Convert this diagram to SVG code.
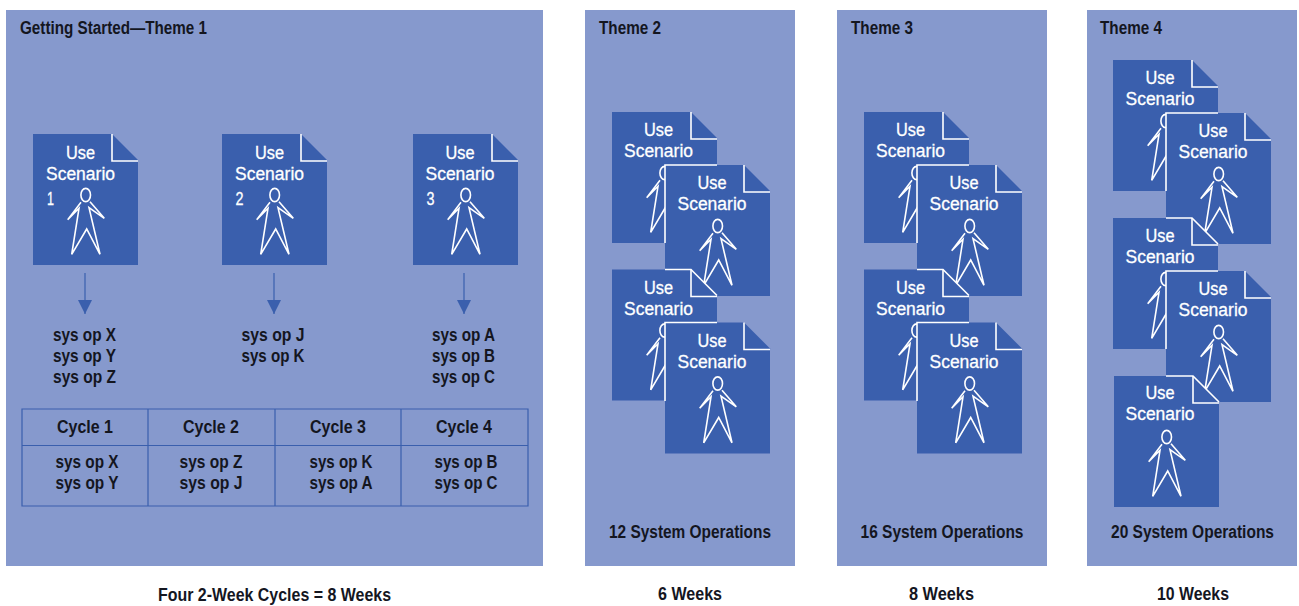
<svg xmlns="http://www.w3.org/2000/svg" width="1299" height="606" viewBox="0 0 1299 606">
<style>
text{font-family:"Liberation Sans",Arial,sans-serif;text-anchor:middle;font-size:18px}
.k{fill:#14161f;font-weight:700}
.l{text-anchor:start}
.w{fill:#fff;font-weight:400;stroke:#fff;stroke-width:.3px;font-size:18px}
.p{fill:#8699cd}
.d{fill:#3a5fad}
.f{fill:none;stroke:#fff;stroke-width:1.6}
.t{fill:none;stroke:#3a5fad;stroke-width:1.2}
.a{stroke:#3a5fad;stroke-width:1.2;fill:none}
</style>
<defs>
<g id="doc">
<path class="d" d="M0,0H79L105,26V131H0Z"/>
<path class="f" d="M79,0V27H105"/>
<ellipse class="f" cx="52.7" cy="61" rx="4.8" ry="6.6"/>
<path class="f" d="M48,68.3L34.7,85.7L46,74.3L38.7,120.3L53.7,95L67,120.3L56,73.7L71.3,84.3L57,67.7"/>
</g>
<marker id="ah" markerUnits="userSpaceOnUse" markerWidth="15" markerHeight="14" refX="14" refY="7" orient="auto"><path d="M0,0L14,7L0,14Z" fill="#3a5fad"/></marker>
</defs>
<g id="panels">
<rect class="p" x="6" y="10" width="537" height="556"/>
<rect class="p" x="585" y="10" width="210" height="556"/>
<rect class="p" x="837" y="10" width="210" height="556"/>
<rect class="p" x="1087" y="10" width="210" height="556"/>
</g>
<g id="titles">
<text class="k l" x="20" y="34" textLength="187" lengthAdjust="spacingAndGlyphs">Getting Started—Theme 1</text>
<text class="k l" x="599" y="34" textLength="62" lengthAdjust="spacingAndGlyphs">Theme 2</text>
<text class="k l" x="851" y="34" textLength="62" lengthAdjust="spacingAndGlyphs">Theme 3</text>
<text class="k l" x="1100" y="34" textLength="62" lengthAdjust="spacingAndGlyphs">Theme 4</text>
</g>
<g id="t1-s1"><use href="#doc" x="33" y="134"/><text class="w" x="80.5" y="158.500" textLength="29" lengthAdjust="spacingAndGlyphs">Use</text><text class="w" x="80.5" y="180" textLength="69" lengthAdjust="spacingAndGlyphs">Scenario</text><text class="w" x="50.5" y="204.500" textLength="7" lengthAdjust="spacingAndGlyphs">1</text></g>
<g id="t1-s2"><use href="#doc" x="222" y="134"/><text class="w" x="269.5" y="158.500" textLength="29" lengthAdjust="spacingAndGlyphs">Use</text><text class="w" x="269.5" y="180" textLength="69" lengthAdjust="spacingAndGlyphs">Scenario</text><text class="w" x="239.5" y="204.500" textLength="8" lengthAdjust="spacingAndGlyphs">2</text></g>
<g id="t1-s3"><use href="#doc" x="413" y="134"/><text class="w" x="460" y="158.500" textLength="29" lengthAdjust="spacingAndGlyphs">Use</text><text class="w" x="460" y="180" textLength="69" lengthAdjust="spacingAndGlyphs">Scenario</text><text class="w" x="430.5" y="204.500" textLength="8" lengthAdjust="spacingAndGlyphs">3</text></g>
<g id="connectors">
<path class="a" d="M85,273V314" marker-end="url(#ah)"/>
<path class="a" d="M274,273V314" marker-end="url(#ah)"/>
<path class="a" d="M464,273V314" marker-end="url(#ah)"/>
</g>
<g id="sysops">
<text class="k" x="84.5" y="341" textLength="63" lengthAdjust="spacingAndGlyphs">sys op X</text>
<text class="k" x="84.5" y="362" textLength="63" lengthAdjust="spacingAndGlyphs">sys op Y</text>
<text class="k" x="84.5" y="383" textLength="63" lengthAdjust="spacingAndGlyphs">sys op Z</text>
<text class="k" x="273" y="341" textLength="63" lengthAdjust="spacingAndGlyphs">sys op J</text>
<text class="k" x="273" y="362" textLength="63" lengthAdjust="spacingAndGlyphs">sys op K</text>
<text class="k" x="463.5" y="341" textLength="63" lengthAdjust="spacingAndGlyphs">sys op A</text>
<text class="k" x="463.5" y="362" textLength="63" lengthAdjust="spacingAndGlyphs">sys op B</text>
<text class="k" x="463.5" y="383" textLength="63" lengthAdjust="spacingAndGlyphs">sys op C</text>
</g>
<g id="cycle-table">
<path class="t" d="M22,409H528V506H22ZM22,445.500H528M148,409V506M275,409V506M401,409V506"/>
<text class="k" x="85" y="432.500" textLength="56" lengthAdjust="spacingAndGlyphs">Cycle 1</text>
<text class="k" x="211" y="432.500" textLength="56" lengthAdjust="spacingAndGlyphs">Cycle 2</text>
<text class="k" x="338" y="432.500" textLength="56" lengthAdjust="spacingAndGlyphs">Cycle 3</text>
<text class="k" x="464" y="432.500" textLength="56" lengthAdjust="spacingAndGlyphs">Cycle 4</text>
<text class="k" x="87" y="468" textLength="63" lengthAdjust="spacingAndGlyphs">sys op X</text>
<text class="k" x="87" y="489" textLength="63" lengthAdjust="spacingAndGlyphs">sys op Y</text>
<text class="k" x="211" y="468" textLength="63" lengthAdjust="spacingAndGlyphs">sys op Z</text>
<text class="k" x="211" y="489" textLength="63" lengthAdjust="spacingAndGlyphs">sys op J</text>
<text class="k" x="341" y="468" textLength="63" lengthAdjust="spacingAndGlyphs">sys op K</text>
<text class="k" x="341" y="489" textLength="63" lengthAdjust="spacingAndGlyphs">sys op A</text>
<text class="k" x="466" y="468" textLength="63" lengthAdjust="spacingAndGlyphs">sys op B</text>
<text class="k" x="466" y="489" textLength="63" lengthAdjust="spacingAndGlyphs">sys op C</text>
</g>

<g id="t2-s1"><use href="#doc" x="612" y="112"/><text class="w" x="658.500" y="136" textLength="29" lengthAdjust="spacingAndGlyphs">Use</text><text class="w" x="658.500" y="157" textLength="69" lengthAdjust="spacingAndGlyphs">Scenario</text></g>
<g id="t2-s2"><use href="#doc" x="665" y="165"/><path class="f" d="M665,243V165H717"/><text class="w" x="712" y="189" textLength="29" lengthAdjust="spacingAndGlyphs">Use</text><text class="w" x="712" y="210" textLength="69" lengthAdjust="spacingAndGlyphs">Scenario</text></g>
<g id="t2-s3"><use href="#doc" x="612" y="269.500"/><path class="f" d="M665,269.500H691L717,295.500"/><text class="w" x="658.500" y="294" textLength="29" lengthAdjust="spacingAndGlyphs">Use</text><text class="w" x="658.500" y="315" textLength="69" lengthAdjust="spacingAndGlyphs">Scenario</text></g>
<g id="t2-s4"><use href="#doc" x="665" y="322.500"/><path class="f" d="M665,401V322.500H717"/><text class="w" x="712" y="347" textLength="29" lengthAdjust="spacingAndGlyphs">Use</text><text class="w" x="712" y="368" textLength="69" lengthAdjust="spacingAndGlyphs">Scenario</text></g>

<g id="t3-s1"><use href="#doc" x="864" y="112"/><text class="w" x="910.500" y="136" textLength="29" lengthAdjust="spacingAndGlyphs">Use</text><text class="w" x="910.500" y="157" textLength="69" lengthAdjust="spacingAndGlyphs">Scenario</text></g>
<g id="t3-s2"><use href="#doc" x="917" y="165"/><path class="f" d="M917,243V165H969"/><text class="w" x="964" y="189" textLength="29" lengthAdjust="spacingAndGlyphs">Use</text><text class="w" x="964" y="210" textLength="69" lengthAdjust="spacingAndGlyphs">Scenario</text></g>
<g id="t3-s3"><use href="#doc" x="864" y="269.500"/><path class="f" d="M917,269.500H943L969,295.500"/><text class="w" x="910.500" y="294" textLength="29" lengthAdjust="spacingAndGlyphs">Use</text><text class="w" x="910.500" y="315" textLength="69" lengthAdjust="spacingAndGlyphs">Scenario</text></g>
<g id="t3-s4"><use href="#doc" x="917" y="322.500"/><path class="f" d="M917,401V322.500H969"/><text class="w" x="964" y="347" textLength="29" lengthAdjust="spacingAndGlyphs">Use</text><text class="w" x="964" y="368" textLength="69" lengthAdjust="spacingAndGlyphs">Scenario</text></g>

<g id="t4-s1"><use href="#doc" x="1113" y="60"/><text class="w" x="1160" y="84" textLength="29" lengthAdjust="spacingAndGlyphs">Use</text><text class="w" x="1160" y="105" textLength="69" lengthAdjust="spacingAndGlyphs">Scenario</text></g>
<g id="t4-s2"><use href="#doc" x="1166" y="113"/><path class="f" d="M1166,191V113H1218"/><text class="w" x="1213" y="137" textLength="29" lengthAdjust="spacingAndGlyphs">Use</text><text class="w" x="1213" y="158" textLength="69" lengthAdjust="spacingAndGlyphs">Scenario</text></g>
<g id="t4-s3"><use href="#doc" x="1113" y="218"/><path class="f" d="M1166,218H1192L1218,244"/><text class="w" x="1160" y="242" textLength="29" lengthAdjust="spacingAndGlyphs">Use</text><text class="w" x="1160" y="263" textLength="69" lengthAdjust="spacingAndGlyphs">Scenario</text></g>
<g id="t4-s4"><use href="#doc" x="1166" y="271"/><path class="f" d="M1166,349V271H1218"/><text class="w" x="1213" y="295" textLength="29" lengthAdjust="spacingAndGlyphs">Use</text><text class="w" x="1213" y="316" textLength="69" lengthAdjust="spacingAndGlyphs">Scenario</text></g>
<g id="t4-s5"><use href="#doc" x="1114" y="376"/><path class="f" d="M1166,376H1193L1219,402"/><text class="w" x="1160" y="399" textLength="29" lengthAdjust="spacingAndGlyphs">Use</text><text class="w" x="1160" y="420" textLength="69" lengthAdjust="spacingAndGlyphs">Scenario</text></g>

<g id="summaries">
<text class="k" x="690" y="538" textLength="162" lengthAdjust="spacingAndGlyphs">12 System Operations</text>
<text class="k" x="942" y="538" textLength="163" lengthAdjust="spacingAndGlyphs">16 System Operations</text>
<text class="k" x="1192.500" y="538" textLength="163" lengthAdjust="spacingAndGlyphs">20 System Operations</text>
<text class="k" x="274.500" y="601" textLength="233" lengthAdjust="spacingAndGlyphs">Four 2-Week Cycles = 8 Weeks</text>
<text class="k" x="690" y="600" textLength="64" lengthAdjust="spacingAndGlyphs">6 Weeks</text>
<text class="k" x="941.500" y="600" textLength="65" lengthAdjust="spacingAndGlyphs">8 Weeks</text>
<text class="k" x="1193" y="600" textLength="72" lengthAdjust="spacingAndGlyphs">10 Weeks</text>
</g>
</svg>
